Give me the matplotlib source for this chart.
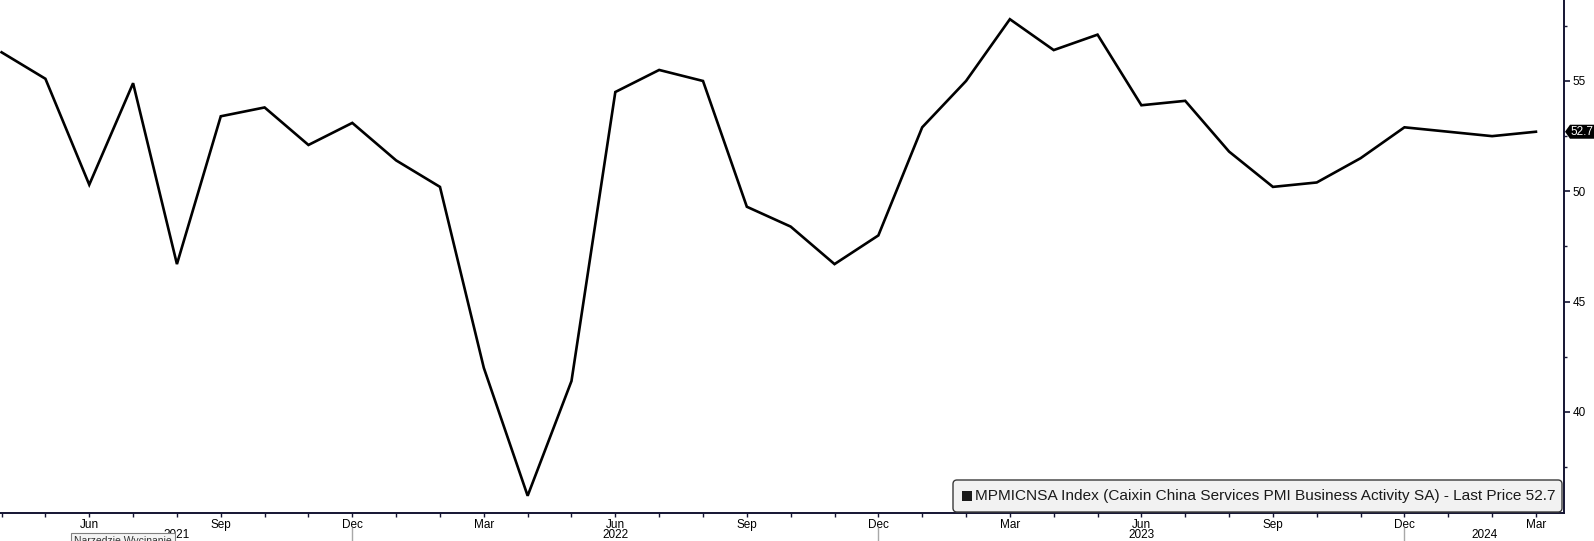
import numpy as np
import pandas as pd
import matplotlib
matplotlib.use("Agg")
from matplotlib import pyplot as plt
from matplotlib import transforms
from matplotlib.patches import FancyBboxPatch, Rectangle, Polygon

# Caixin China Services PMI, monthly, Apr 2021 .. Mar 2024
months = pd.period_range("2021-04", "2024-03", freq="M")
pmi = [56.3, 55.1, 50.3, 54.9, 46.7, 53.4, 53.8, 52.1, 53.1,
       51.4, 50.2, 42.0, 36.2, 41.4, 54.5, 55.5, 55.0, 49.3, 48.4, 46.7, 48.0,
       52.9, 55.0, 57.8, 56.4, 57.1, 53.9, 54.1, 51.8, 50.2, 50.4, 51.5, 52.9,
       52.7, 52.5, 52.7]
y_ticks = [40, 45, 50, 55]
legend_text = "MPMICNSA Index (Caixin China Services PMI Business Activity SA) - Last Price 52.7"
last_price = 52.7

plt.rcParams['font.family'] = ['Liberation Sans', 'DejaVu Sans']

W, H = 1594, 541
fig = plt.figure(figsize=(W / 100, H / 100), dpi=100)
fig.patch.set_facecolor("white")
ax = fig.add_axes([0.0, 28 / H, 1564 / W, 513 / H])
px = transforms.IdentityTransform()

x = np.arange(len(pmi))
ax.plot(x, pmi, color="black", lw=1.9, solid_joinstyle="miter")

ax.set_xlim(-0.036, 35.64)
ax.set_ylim(35.42, 58.67)

for s in ["left", "top"]:
    ax.spines[s].set_visible(False)
for s in ["bottom", "right"]:
    ax.spines[s].set_color("#141432")
    ax.spines[s].set_linewidth(1.4)

# y axis on the right
ax.yaxis.tick_right()
ax.set_yticks(y_ticks)
ax.set_yticks([37.5, 42.5, 47.5, 52.5, 57.5], minor=True)
ax.tick_params(axis="y", which="major", length=4, width=1.2, pad=2,
               labelsize=8.5, colors="#141432", labelcolor="black")
ax.tick_params(axis="y", which="minor", length=2, width=1, colors="#141432")

# x axis: tick every month, label quarters
ax.set_xticks(x)
labels = [m.strftime("%b") if m.month in (3, 6, 9, 12) else "" for m in months]
ax.set_xticklabels(labels)
ax.tick_params(axis="x", length=3, width=1, pad=1, labelsize=8.5,
               colors="#141432", labelcolor="black")

# year labels and separators
trans = transforms.blended_transform_factory(ax.transData, ax.transAxes)
years = sorted(set(m.year for m in months))
seps = [i for i, m in enumerate(months) if m.month == 12]
bounds = [ax.get_xlim()[0]] + seps + [ax.get_xlim()[1]]
for yr, a, b in zip(years, bounds[:-1], bounds[1:]):
    ax.text((a + b) / 2, -0.043, str(yr), transform=trans, ha="center",
            va="center", fontsize=8.5)
for s in seps:
    ax.plot([s, s], [-0.029, -0.06], transform=trans, color="#a8a8a8",
            lw=1, clip_on=False)

# last price tag on the right axis
yp = ax.transData.transform((0, last_price))[1]
tag = Polygon([(1565, yp), (1570, yp + 7), (1594, yp + 7),
               (1594, yp - 7), (1570, yp - 7)], closed=True,
              transform=px, fc="black", ec="none")
fig.add_artist(tag)
fig.text(1570 / W, yp / H, f"{last_price}", color="white", fontsize=8.5,
         ha="left", va="center")

# legend box
box = FancyBboxPatch((953, 29), 1562 - 953, 32,
                     boxstyle="round,pad=0,rounding_size=4",
                     transform=px, fc="#f2f2f2", ec="#3a3a3a", lw=1, zorder=5)
fig.add_artist(box)
fig.add_artist(Rectangle((962, 40), 10, 10, transform=px, fc="#1a1a1a",
                         ec="none", zorder=6))
fig.text(975 / W, 45 / H, legend_text, ha="left", va="center",
         fontsize=11.1, color="#1a1a1a", zorder=6)

# snipping tool tooltip at the bottom edge
fig.text(74 / W, 5 / H, "Narzędzie Wycinanie", fontsize=7.5, va="top",
         ha="left", color="#333333",
         bbox=dict(boxstyle="square,pad=0.3", fc="#f4f4f4", ec="#808080", lw=0.8))

fig.savefig("out.png", dpi=100)
